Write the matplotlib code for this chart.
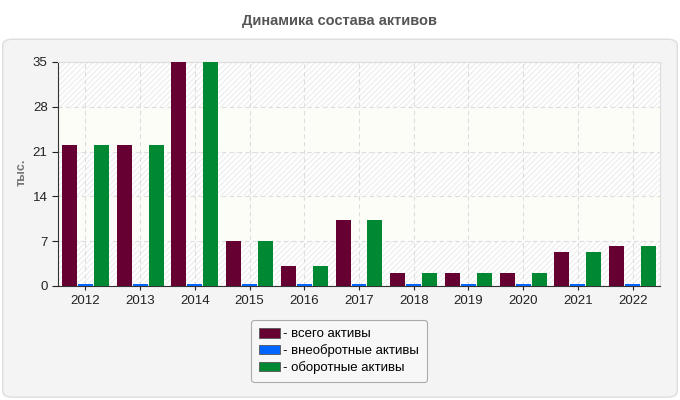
import matplotlib.pyplot as plt
import numpy as np
from matplotlib.patches import FancyBboxPatch, Patch

years = ['2012', '2013', '2014', '2015', '2016', '2017', '2018', '2019', '2020', '2021', '2022']
total_assets = [22, 22, 35.2, 7.1, 3.2, 10.3, 2.1, 2.1, 2.1, 5.3, 6.2]
noncurrent_assets = [0.3, 0.3, 0.3, 0.3, 0.3, 0.3, 0.3, 0.3, 0.3, 0.3, 0.3]
current_assets = [22, 22, 35.2, 7.1, 3.2, 10.3, 2.1, 2.1, 2.1, 5.3, 6.2]

series_names = ['- всего активы', '- внеобротные активы', '- оборотные активы']
series_colors = ['#660033', '#0066ff', '#008833']
y_ticks = [0, 7, 14, 21, 28, 35]

plt.rcParams['font.family'] = ['Liberation Sans', 'DejaVu Sans']


def main():
    fig = plt.figure(figsize=(6.8, 4), dpi=100)
    fig.patch.set_facecolor('white')

    # outer rounded panel
    panel = FancyBboxPatch((0.004, 0.007), 0.992, 0.895, boxstyle='round,pad=0,rounding_size=0.015',
                           transform=fig.transFigure, facecolor='#f4f4f4', edgecolor='#dddddd',
                           linewidth=1, zorder=-10)
    fig.patches.append(panel)

    fig.text(0.5, 0.948, 'Динамика состава активов', ha='center', va='center',
             fontsize=10.5, fontweight='bold', color='#555555')

    ax = fig.add_axes([58 / 680, 1 - 286 / 400, 602 / 680, 224 / 400])
    ax.set_facecolor('white')

    x = np.arange(len(years))
    w = 0.274
    step = 0.292
    for i, (vals, col) in enumerate(zip([total_assets, noncurrent_assets, current_assets], series_colors)):
        ax.bar(x + (i - 1) * step, vals, width=w, color=col, zorder=3)

    # background bands
    for k in range(5):
        lo, hi = y_ticks[k], y_ticks[k + 1]
        if k % 2 == 0:
            ax.axhspan(lo, hi, facecolor='white', edgecolor='#efefef', hatch='//////', linewidth=0, zorder=0)
        else:
            ax.axhspan(lo, hi, facecolor='#fdfdf8', edgecolor='none', linewidth=0, zorder=0)

    ax.set_xlim(-0.5, len(years) - 0.5)
    ax.set_ylim(0, 35)
    ax.set_yticks(y_ticks)
    ax.set_xticks(x)
    ax.set_xticklabels(years)
    ax.grid(True, color='#dddddd', linestyle=(0, (4, 3)), linewidth=0.8, zorder=1)
    ax.tick_params(axis='both', labelsize=9.5, colors='#222222', length=4, width=0.8)
    ax.tick_params(axis='x', length=3)
    for s in ['top', 'right']:
        ax.spines[s].set_color('#dddddd')
    for s in ['left', 'bottom']:
        ax.spines[s].set_color('#333333')

    fig.text(22 / 680, 1 - 172 / 400, 'тыс.', rotation=90, ha='center', va='center',
             fontsize=9, fontweight='bold', color='#777777')

    handles = [Patch(facecolor=c, edgecolor='#555555', linewidth=0.6) for c in series_colors]
    leg = fig.legend(handles, series_names, loc='center', bbox_to_anchor=(339 / 680, 1 - 351 / 400),
                     fontsize=9.5, frameon=True, fancybox=True, handlelength=1.6, handleheight=0.75,
                     handletextpad=0.2, labelspacing=0.3, borderpad=0.6, borderaxespad=0,
                     edgecolor='#999999')
    leg.get_frame().set_facecolor('#f8f8f8')
    leg.get_frame().set_linewidth(0.8)

    fig.savefig('out.png', dpi=100)
    plt.close(fig)


if __name__ == "__main__":
    main()
